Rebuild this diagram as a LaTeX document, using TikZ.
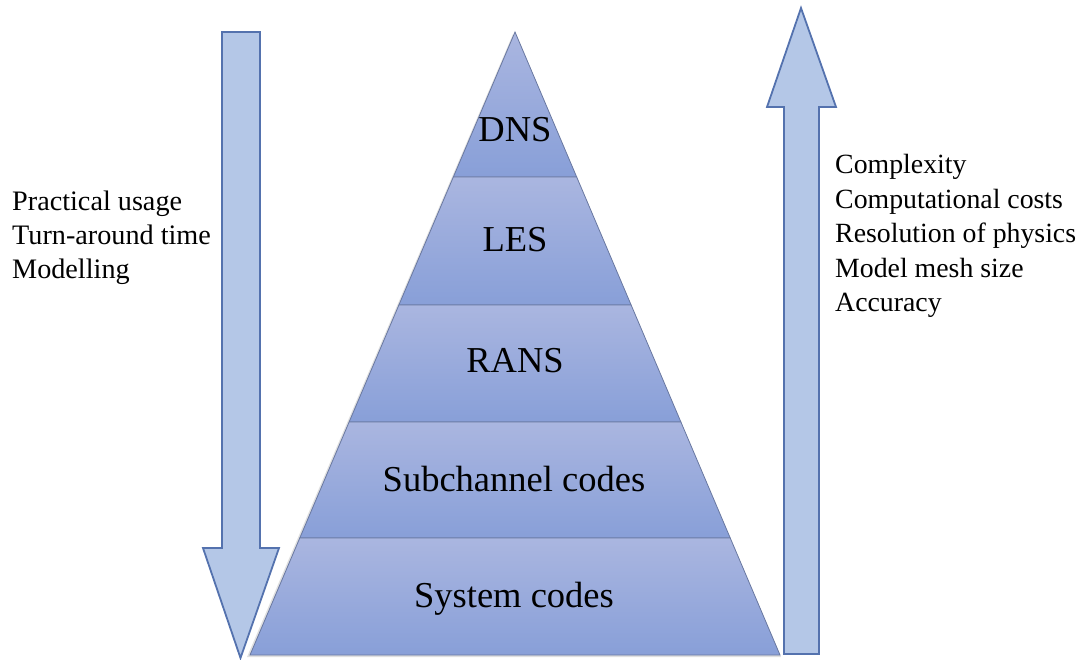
\documentclass[tikz,border=0pt]{standalone}
\usepackage{fontspec}
\setmainfont{Liberation Serif}
\usetikzlibrary{calc}
\definecolor{arrowfill}{RGB}{180,199,231}
\definecolor{arrowline}{RGB}{84,114,174}
\definecolor{laytop}{RGB}{170,182,224}
\definecolor{laybot}{RGB}{136,159,216}
\definecolor{layline}{RGB}{105,120,160}
\tikzset{
  bigarrow/.style={fill=arrowfill, draw=arrowline, line width=1.8pt, line join=miter},
  layer/.style={top color=laytop, bottom color=laybot, draw=layline, line width=0.8pt},
  laylabel/.style={anchor=base, inner sep=0pt, font=\fontsize{36.5}{42}\selectfont},
  sidetext/.style={anchor=north west, inner sep=0pt, align=left, font=\fontsize{28.2}{34}\selectfont},
  sidetextb/.style={anchor=north west, inner sep=0pt, align=left, font=\fontsize{27.8}{34.5}\selectfont}
}
\begin{document}
\begin{tikzpicture}[x=1pt,y=-1pt]
\useasboundingbox (0,0) rectangle (1083,660);
% pyramid coordinates
\coordinate (A) at (515,32);
\coordinate (BL) at (250,655);
\coordinate (BR) at (780,655);
\coordinate (L1) at ($(A)!0.2327!(BL)$);
\coordinate (R1) at ($(A)!0.2327!(BR)$);
\coordinate (L2) at ($(A)!0.4382!(BL)$);
\coordinate (R2) at ($(A)!0.4382!(BR)$);
\coordinate (L3) at ($(A)!0.6260!(BL)$);
\coordinate (R3) at ($(A)!0.6260!(BR)$);
\coordinate (L4) at ($(A)!0.8122!(BL)$);
\coordinate (R4) at ($(A)!0.8122!(BR)$);
% soft shadow
\fill[black, opacity=0.12] ($(A)+(-2,2)$) -- ($(BL)+(-3,2)$) -- ($(BR)+(1,2)$) -- cycle;
% layers
\path[layer] (A) -- (L1) -- (R1) -- cycle;
\path[layer] (L1) -- (L2) -- (R2) -- (R1) -- cycle;
\path[layer] (L2) -- (L3) -- (R3) -- (R2) -- cycle;
\path[layer] (L3) -- (L4) -- (R4) -- (R3) -- cycle;
\path[layer] (L4) -- (BL) -- (BR) -- (R4) -- cycle;
% labels
\node[laylabel] (dns) at (515,141.7) {DNS};
\node[laylabel] (les) at (515,251.7) {LES};
\node[laylabel] (rans) at (515,372.7) {RANS};
\node[laylabel] (sub) at (514,491.7) {Subchannel codes};
\node[laylabel] (sys) at (514,607.3) {System codes};
% left arrow (down)
\path[bigarrow] (222,32) -- (260,32) -- (260,548) -- (279,548) -- (240.5,658)
  -- (203,548) -- (222,548) -- cycle;
% right arrow (up)
\path[bigarrow] (801,8) -- (836,107) -- (819,107) -- (819,654) -- (784,654)
  -- (784,107) -- (767,107) -- cycle;
% side texts
\node[sidetext] (lefttext) at (12,190.5) {Practical usage\\Turn-around time\\Modelling};
\node[sidetextb] (righttext) at (835,154.5) {Complexity\\Computational costs\\Resolution of physics\\Model mesh size\\Accuracy};
\end{tikzpicture}
\end{document}
